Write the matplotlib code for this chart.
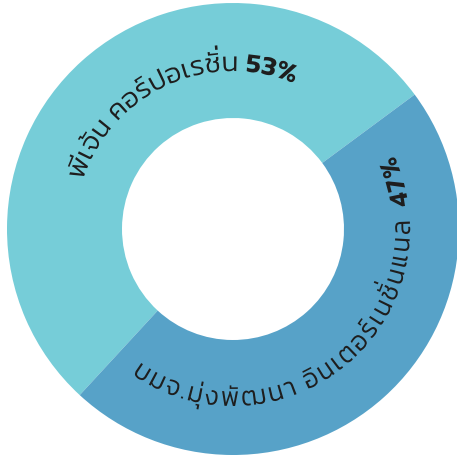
import matplotlib
matplotlib.use("Agg")
import matplotlib.pyplot as plt
import numpy as np
from matplotlib import font_manager
from matplotlib.ft2font import FT2Font, LoadFlags
from matplotlib.textpath import TextPath
from matplotlib.patches import PathPatch
from matplotlib.path import Path

# data
labels = ["พีเจ้น คอร์ปอเรชั่น", "บมจ.มุ่งพัฒนา อินเตอร์เนชั่นแนล"]
shares = [53, 47]
colors = ["#76cdd8", "#57a2c8"]
text_color = "#1e1e1e"

FAMILY = "Kanit"
ABOVE = set(chr(c) for c in [0x0E31, 0x0E34, 0x0E35, 0x0E36, 0x0E37, 0x0E47,
                            0x0E48, 0x0E49, 0x0E4A, 0x0E4B, 0x0E4C, 0x0E4D, 0x0E4E])
BELOW = set(chr(c) for c in [0x0E38, 0x0E39, 0x0E3A])


def layout(s, weight, size, x0, track, verts, codes):
    # no text shaping in matplotlib, so put the Thai marks on by hand
    fp = font_manager.FontProperties(family=FAMILY, weight=weight)
    ft = FT2Font(font_manager.findfont(fp))
    ft.set_size(size, 72)
    x = x0
    base_right, stack_top = x0, 0
    for ch in s:
        adv = ft.load_char(ord(ch), flags=LoadFlags.NO_HINTING).linearHoriAdvance / 65536
        if ch.isspace():
            x += adv + track
            continue
        tp = TextPath((0, 0), ch, size=size, prop=fp)
        v = tp.vertices.copy()
        ink = v[tp.codes != Path.CLOSEPOLY]
        if ch in ABOVE or ch in BELOW:
            x1_ = ink[:, 0].max()
            v[:, 0] += base_right - x1_
            if ch in ABOVE:
                y0_, y1_ = ink[:, 1].min(), ink[:, 1].max()
                dy = max(0, stack_top + 0.05 * size - y0_)
                v[:, 1] += dy
                stack_top = y1_ + dy
            verts.append(v)
            codes.append(tp.codes)
            continue
        v[:, 0] += x
        base_right = ink[:, 0].max() + x
        stack_top = ink[:, 1].max()
        verts.append(v)
        codes.append(tp.codes)
        x += adv + track
    return x


def curved_text(ax, parts, center, radius, start_deg, clockwise, size, track):
    # lay the string out flat, then bend it round the ring
    verts, codes = [], []
    x = 0.0
    for s, weight, gap in parts:
        x = layout(s, weight, size, x + gap, track, verts, codes)
    v = np.concatenate(verts)
    c = np.concatenate(codes)
    th0 = np.radians(start_deg)
    if clockwise:
        th = th0 - v[:, 0] / radius
        r = radius + v[:, 1]
    else:
        th = th0 + v[:, 0] / radius
        r = radius - v[:, 1]
    nv = np.column_stack([center[0] + r * np.cos(th), center[1] + r * np.sin(th)])
    ax.add_patch(PathPatch(Path(nv, c), fc=text_color, lw=0))


fig = plt.figure(figsize=(4.57, 4.56), dpi=100)
ax = fig.add_axes([0, 0, 1, 1])
cx, cy = 233, 226
r_out, r_in = 226, 111
ax.pie(shares, colors=colors, startangle=36.5, counterclock=True,
       radius=r_out, center=(cx, cy),
       wedgeprops=dict(width=r_out - r_in, linewidth=0))
ax.set_xlim(0, 457)
ax.set_ylim(0, 456)
ax.set_aspect("equal")
ax.axis("off")

fs = 27
curved_text(ax, [(labels[0], 300, 0), ("%d%%" % shares[0], 600, 7)],
            (cx, cy), 158, 162, True, fs, 0.6)
curved_text(ax, [(labels[1], 300, 0), ("%d%%" % shares[1], 600, 12)],
            (cx, cy), 177, 235, False, fs, 1.9)

fig.savefig("out.png", dpi=100)
